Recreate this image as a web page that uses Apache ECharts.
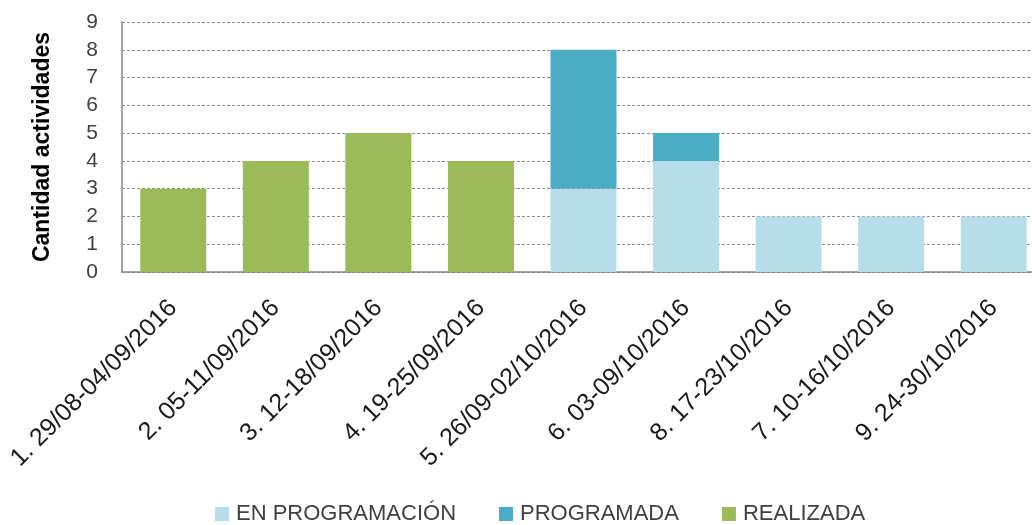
<!DOCTYPE html>
<html>
<head>
<meta charset="utf-8">
<script src="https://cdn.jsdelivr.net/npm/echarts@6/dist/echarts.min.js"></script>
<style>html,body{margin:0;padding:0;background:#fff;overflow:hidden;width:1032px;height:525px}#c{width:1045px;height:525px}</style>
</head>
<body>
<div id="c"></div>
<script>
const categories = ["1. 29/08-04/09/2016","2. 05-11/09/2016","3. 12-18/09/2016","4. 19-25/09/2016","5. 26/09-02/10/2016","6. 03-09/10/2016","8. 17-23/10/2016","7. 10-16/10/2016","9. 24-30/10/2016"];
const enProgramacion = [0,0,0,0,3,4,2,2,2];
const programada = [0,0,0,0,5,1,0,0,0];
const realizada = [3,4,5,4,0,0,0,0,0];
const yTicks = [0,1,2,3,4,5,6,7,8,9];

const FONT = "'Liberation Sans', 'Open Sans', sans-serif";
const chart = echarts.init(document.getElementById('c'));
chart.setOption({
  animation: false,
  backgroundColor: '#fff',
  textStyle: {fontFamily: FONT},
  grid: {left: 122, top: 22, bottom: 253, right: 0, containLabel: false},
  legend: {
    top: 498, left: 210,
    itemWidth: 14, itemHeight: 14, itemGap: 43,
    icon: 'rect',
    textStyle: {fontSize: 22, color: '#404040', fontFamily: FONT, padding: [0,0,0,2]},
    data: ['EN PROGRAMACIÓN','PROGRAMADA','REALIZADA']
  },
  xAxis: {
    type: 'category',
    data: categories,
    axisLine: {show: true, lineStyle: {color: '#868686', width: 1.5}},
    axisTick: {show: false},
    axisLabel: {rotate: 45, interval: 0, fontSize: 25, color: '#1a1a1a', margin: 32, fontFamily: FONT}
  },
  yAxis: {
    type: 'value',
    min: 0, max: 9, interval: 1,
    name: 'Cantidad actividades',
    nameLocation: 'middle',
    nameGap: 68,
    nameTextStyle: {fontSize: 23, fontWeight: 'bold', color: '#000', fontFamily: FONT},
    axisLine: {show: true, lineStyle: {color: '#868686', width: 1.5}},
    axisTick: {show: false},
    axisLabel: {fontSize: 21, color: '#404040', margin: 24, fontFamily: FONT,
      formatter: v => yTicks.includes(v) ? String(v) : ''},
    splitLine: {show: true, lineStyle: {color: '#8c8c8c', type: [3,2], width: 1}}
  },
  series: [
    {name: 'EN PROGRAMACIÓN', type: 'bar', stack: 'a', data: enProgramacion, barWidth: 66,
      itemStyle: {color: '#b7dde8'}},
    {name: 'PROGRAMADA', type: 'bar', stack: 'a', data: programada,
      itemStyle: {color: '#4bacc6'}},
    {name: 'REALIZADA', type: 'bar', stack: 'a', data: realizada,
      itemStyle: {color: '#9bbb59'}}
  ]
});
</script>
</body>
</html>
